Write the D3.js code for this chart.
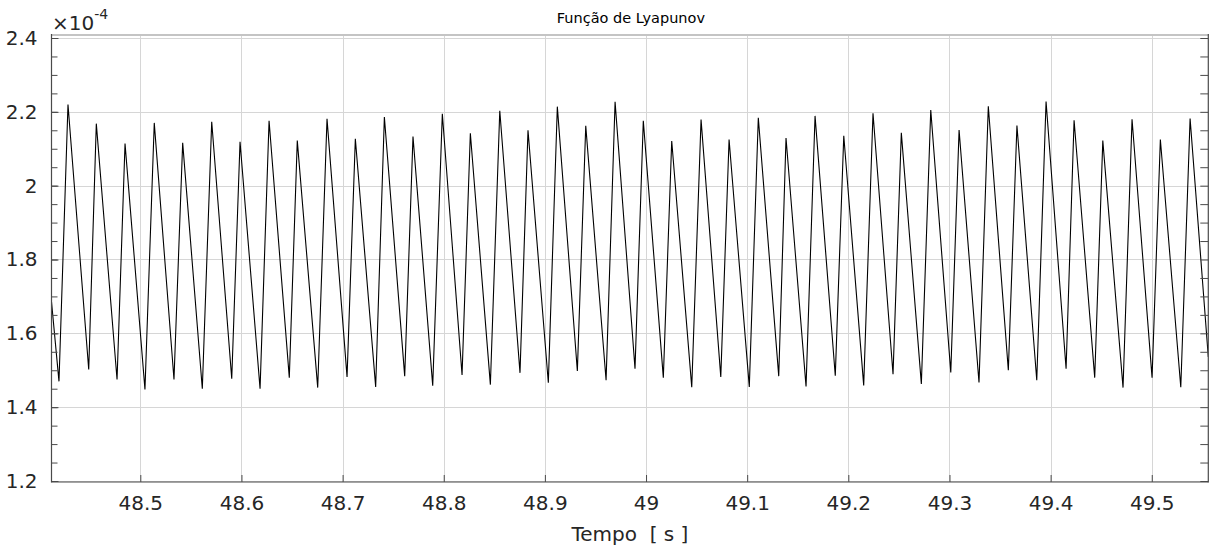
<!DOCTYPE html>
<html>
<head>
<meta charset="utf-8">
<script src="https://cdn.jsdelivr.net/npm/d3@7"></script>
<style>
  html, body { margin: 0; padding: 0; background: #fff; }
  svg { display: block; font-family: "DejaVu Sans", Verdana, sans-serif; }
</style>
</head>
<body>
<svg id="chart" width="1209" height="550"></svg>
<script>
// ---- data (values in units of 1e-4) ----
const troughTimes = [48.4196, 48.4490, 48.4770, 48.5046, 48.5333, 48.5613, 48.5904, 48.6184,
  48.6473, 48.6754, 48.7044, 48.7327, 48.7614, 48.7891, 48.8181, 48.8461,
  48.8754, 48.9034, 48.9321, 48.9605, 48.9891, 49.0171, 49.0452, 49.0739,
  49.1021, 49.1312, 49.1582, 49.1871, 49.2152, 49.2442, 49.2722, 49.3013,
  49.3292, 49.3582, 49.3863, 49.4153, 49.4436, 49.4716, 49.5003, 49.5287];
const troughValues = [1.470, 1.502, 1.475, 1.448, 1.475, 1.450, 1.477, 1.450,
  1.480, 1.453, 1.482, 1.455, 1.484, 1.458, 1.487, 1.461,
  1.493, 1.466, 1.498, 1.473, 1.504, 1.480, 1.454, 1.482,
  1.455, 1.484, 1.456, 1.485, 1.459, 1.489, 1.463, 1.494,
  1.467, 1.500, 1.473, 1.504, 1.480, 1.453, 1.480, 1.454];
const peakTimes = [48.4285, 48.4565, 48.4849, 48.5138, 48.5419, 48.5706, 48.5986, 48.6273,
  48.6552, 48.6846, 48.7126, 48.7413, 48.7696, 48.7986, 48.8263, 48.8554,
  48.8833, 48.9123, 48.9404, 48.9694, 48.9973, 49.0254, 49.0544, 49.0821,
  49.1110, 49.1384, 49.1671, 49.1955, 49.2244, 49.2524, 49.2815, 49.3095,
  49.3384, 49.3667, 49.3955, 49.4232, 49.4516, 49.4805, 49.5085, 49.5379];
const peakValues = [2.220, 2.168, 2.114, 2.170, 2.116, 2.173, 2.119, 2.176,
  2.122, 2.181, 2.127, 2.186, 2.133, 2.195, 2.142, 2.203,
  2.150, 2.214, 2.162, 2.227, 2.176, 2.121, 2.179, 2.125,
  2.184, 2.129, 2.189, 2.135, 2.196, 2.143, 2.205, 2.151,
  2.215, 2.163, 2.228, 2.177, 2.122, 2.180, 2.125, 2.182];
const edgeTimes = [48.4122, 49.5559];
const edgeValues = [1.6855, 1.536];

const xTicks = [48.5, 48.6, 48.7, 48.8, 48.9, 49.0, 49.1, 49.2, 49.3, 49.4, 49.5];
const xTickLabels = ["48.5", "48.6", "48.7", "48.8", "48.9", "49", "49.1", "49.2", "49.3", "49.4", "49.5"];
const yTicks = [1.2, 1.4, 1.6, 1.8, 2.0, 2.2, 2.4];
const yTickLabels = ["1.2", "1.4", "1.6", "1.8", "2", "2.2", "2.4"];
const yMinorTicks = d3.range(1.2, 2.4001, 0.05);

const titleText = "Função de Lyapunov";
const xLabelText = "Tempo  [ s ]";

// ---- build series ----
const series = [{ t: edgeTimes[0], v: edgeValues[0] }];
troughTimes.forEach((t, i) => {
  series.push({ t: t, v: troughValues[i] });
  series.push({ t: peakTimes[i], v: peakValues[i] });
});
series.push({ t: edgeTimes[1], v: edgeValues[1] });

// ---- layout ----
const L = 51.5, R = 1208.3, T = 35, B = 482;
const svg = d3.select("#chart");

const x = d3.scaleLinear().domain([edgeTimes[0], edgeTimes[1]]).range([L, R]);
const y = d3.scaleLinear().domain([1.2, 2.4]).range([481, 38]);

const gridColor = "#d6d6d6";
const axisColor = "#4a4a4a";
const textColor = "#262626";

// grid
const grid = svg.append("g");
grid.selectAll("line.gx").data(xTicks).enter().append("line")
  .attr("x1", d => Math.round(x(d)) + 0.5).attr("x2", d => Math.round(x(d)) + 0.5)
  .attr("y1", T).attr("y2", B)
  .attr("stroke", gridColor).attr("stroke-width", 1);
grid.selectAll("line.gy").data(yTicks).enter().append("line")
  .attr("x1", L).attr("x2", R)
  .attr("y1", d => Math.round(y(d)) + 0.5).attr("y2", d => Math.round(y(d)) + 0.5)
  .attr("stroke", gridColor).attr("stroke-width", 1);

// data line
svg.append("clipPath").attr("id", "clip").append("rect")
  .attr("x", L).attr("y", T).attr("width", R - L).attr("height", B - T);
const line = d3.line().x(d => x(d.t)).y(d => y(d.v));
svg.append("path").datum(series)
  .attr("clip-path", "url(#clip)")
  .attr("d", line)
  .attr("fill", "none").attr("stroke", "#000").attr("stroke-width", 1.1)
  .attr("stroke-linejoin", "miter");

// box: top (light) line
svg.append("line").attr("x1", L).attr("x2", R).attr("y1", T).attr("y2", T)
  .attr("stroke", "#c4c4c4").attr("stroke-width", 2);

// axes
const xAxis = d3.axisBottom(x).tickValues(xTicks).tickFormat((d, i) => xTickLabels[i])
  .tickSizeInner(-7).tickSizeOuter(0).tickPadding(14);
svg.append("g").attr("transform", `translate(0,${B})`).call(xAxis);

const yAxis = d3.axisLeft(y).tickValues(yTicks).tickFormat((d, i) => yTickLabels[i])
  .tickSizeInner(-7).tickSizeOuter(0).tickPadding(14);
svg.append("g").attr("transform", `translate(${L},0)`).call(yAxis);

const yAxisMinor = d3.axisLeft(y).tickValues(yMinorTicks).tickFormat("")
  .tickSizeInner(-6).tickSizeOuter(0);
svg.append("g").attr("transform", `translate(${L},0)`).call(yAxisMinor);

const yAxisRight = d3.axisRight(y).tickValues(yMinorTicks).tickFormat("")
  .tickSizeInner(-8).tickSizeOuter(0);
svg.append("g").attr("transform", `translate(${R},0)`).call(yAxisRight);

svg.selectAll(".domain").remove();
svg.selectAll(".tick line").attr("stroke", axisColor).attr("stroke-width", 1);
svg.selectAll(".tick text").attr("fill", textColor).attr("font-size", 20)
  .attr("font-family", '"DejaVu Sans", Verdana, sans-serif');

// axis lines
svg.append("line").attr("x1", L).attr("x2", L).attr("y1", T - 1).attr("y2", B + 0.5)
  .attr("stroke", axisColor).attr("stroke-width", 1.2);
svg.append("line").attr("x1", R).attr("x2", R).attr("y1", T - 1).attr("y2", B + 0.5)
  .attr("stroke", axisColor).attr("stroke-width", 1.2);
svg.append("line").attr("x1", L).attr("x2", R).attr("y1", B).attr("y2", B)
  .attr("stroke", axisColor).attr("stroke-width", 1.2);

// exponent label
const expo = svg.append("text").attr("x", 52).attr("y", 30)
  .attr("fill", textColor).attr("font-size", 20);
expo.append("tspan").text("×10");
expo.append("tspan").attr("dy", -11).attr("font-size", 14).text("-4");

// title
svg.append("text").attr("x", (L + R) / 2 + 1).attr("y", 23)
  .attr("text-anchor", "middle").attr("fill", "#000").attr("font-size", 14.5)
  .text(titleText);

// x label
svg.append("text").attr("x", (L + R) / 2).attr("y", 541)
  .attr("text-anchor", "middle").attr("fill", textColor).attr("font-size", 20)
  .attr("xml:space", "preserve").style("white-space", "pre")
  .text(xLabelText);
</script>
</body>
</html>
